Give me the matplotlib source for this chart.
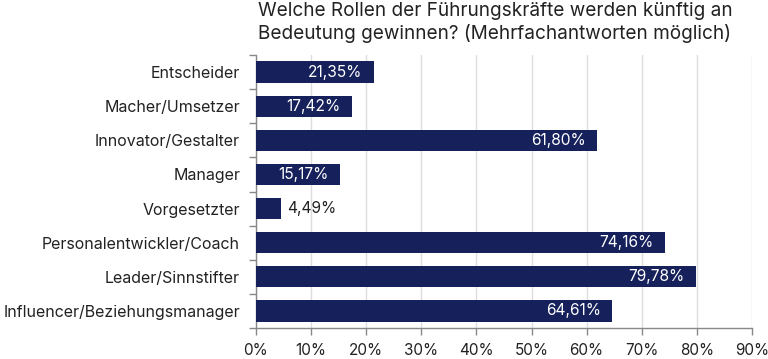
import matplotlib
matplotlib.use("Agg")
import matplotlib.pyplot as plt
import numpy as np

categories = ["Entscheider", "Macher/Umsetzer", "Innovator/Gestalter", "Manager",
              "Vorgesetzter", "Personalentwickler/Coach", "Leader/Sinnstifter",
              "Influencer/Beziehungsmanager"]
values = [21.35, 17.42, 61.80, 15.17, 4.49, 74.16, 79.78, 64.61]
xticks = [0, 10, 20, 30, 40, 50, 60, 70, 80, 90]
title = "Welche Rollen der Führungskräfte werden künftig an\nBedeutung gewinnen? (Mehrfachantworten möglich)"

plt.rcParams['font.family'] = ['Inter', 'DejaVu Sans']

fig = plt.figure(figsize=(7.68, 3.59), dpi=100)
ax = fig.add_axes([256/768, 1-328/359, (752-256)/768, (328-55)/359])

y = np.arange(len(categories))
color = "#16215c"
ax.barh(y, values, height=0.62, color=color, zorder=3)
ax.set_ylim(len(categories)-0.5, -0.5)
ax.set_xlim(0, 90)

for yi, v in zip(y, values):
    lab = f"{v:.2f}%".replace(".", ",")
    if v > 10:
        ax.text(v - 2.0, yi, lab, ha="right", va="center", color="white", fontsize=11.2, zorder=4)
    else:
        ax.text(v + 1.1, yi, lab, ha="left", va="center", color="#222222", fontsize=11.2, zorder=4)

ax.set_yticks(y)
ax.set_yticklabels(categories, fontsize=11.5, color="#222222")
ax.tick_params(axis="y", length=0, pad=11.5)
ax.set_yticks(np.arange(-0.5, len(categories)), minor=True)
ax.tick_params(axis="y", which="minor", length=5, color="#888888", width=1)

ax.set_xticks(xticks)
ax.set_xticklabels([f"{t}%" for t in xticks], fontsize=11, color="#222222")
ax.tick_params(axis="x", length=5, color="#888888", width=1, pad=6)
ax.grid(axis="x", color="#dddddd", linewidth=1, zorder=0)

for s in ["top", "right"]:
    ax.spines[s].set_visible(False)
for s in ["left", "bottom"]:
    ax.spines[s].set_color("#888888")
    ax.spines[s].set_linewidth(1)

fig.text(258/768, 1-2/359, title, ha="left", va="top", fontsize=13.65, color="#222222", linespacing=1.25)

fig.savefig("out.png", dpi=100)
